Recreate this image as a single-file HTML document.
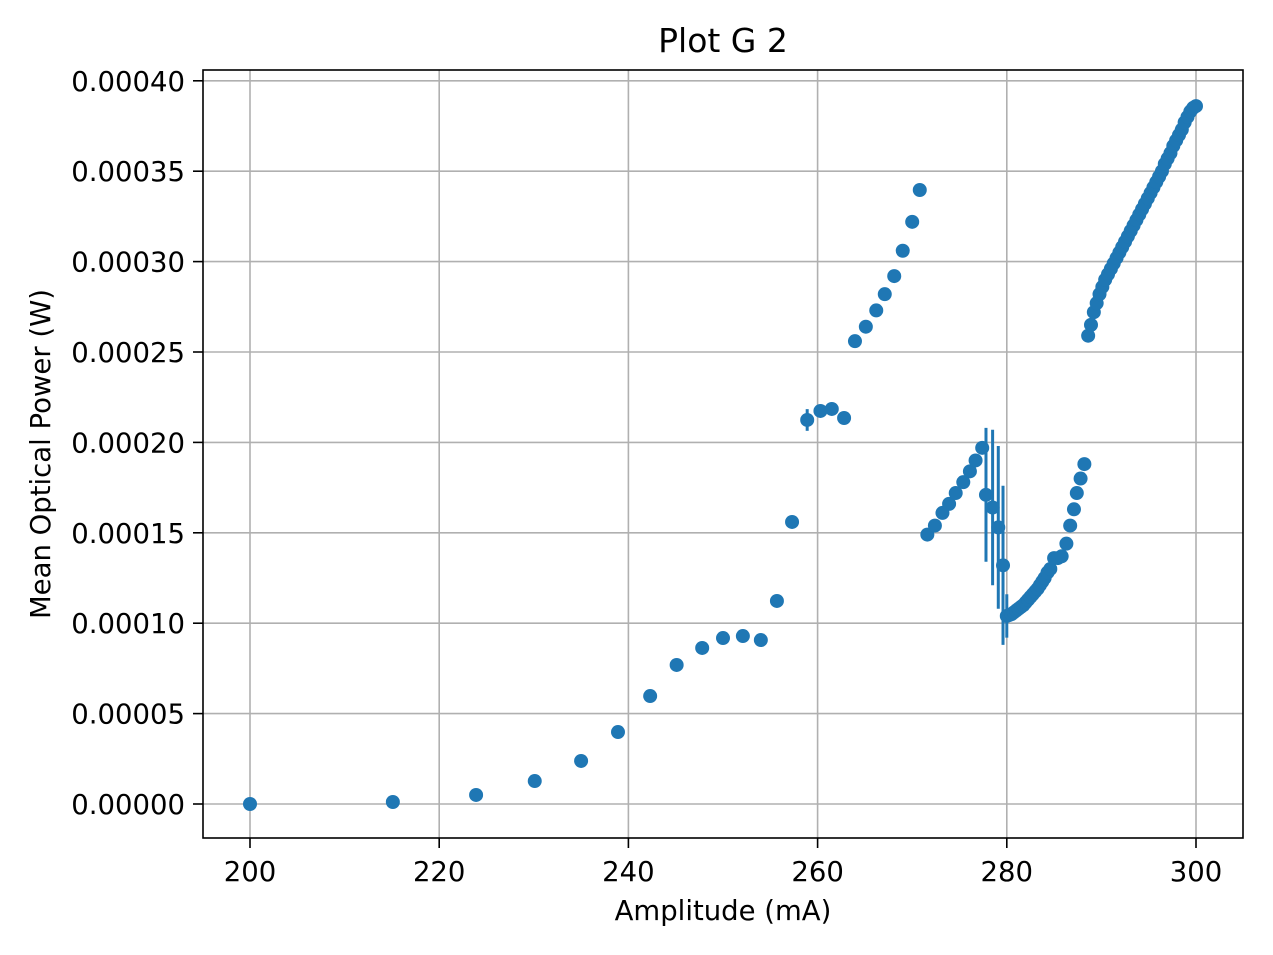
<!DOCTYPE html>
<html><head><meta charset="utf-8"><style>
html,body{margin:0;padding:0;background:#fff;}
svg{display:block;font-family:"DejaVu Sans","Liberation Sans",sans-serif;}
</style></head><body>
<svg id="chart" width="1273" height="955" viewBox="0 0 1273 955" xmlns="http://www.w3.org/2000/svg">
<rect x="0" y="0" width="1273" height="955" fill="#fff"/>
<g id="grid"></g>
<g id="errs"></g>
<g id="pts"></g>
<rect x="203" y="70" width="1040" height="768" fill="none" stroke="#000" stroke-width="1.6"/>
<g id="ticks"></g>
<text x="723" y="52" font-size="33" text-anchor="middle">Plot G 2</text>
<text x="723" y="920" font-size="27.5" text-anchor="middle">Amplitude (mA)</text>
<text x="0" y="0" font-size="27.5" text-anchor="middle" transform="translate(50,454) rotate(-90)">Mean Optical Power (W)</text>
</svg>
<script>
const xVals=[200,215.1,223.9,230.1,235.0,238.9,242.3,245.1,247.8,250.0,252.1,254.0,255.7,257.3,258.9,260.3,261.5,262.8,
263.95,265.1,266.2,267.1,268.1,269.0,270.0,270.8,
271.6,272.4,273.2,273.9,274.6,275.4,276.1,276.7,277.4,277.8,278.5,279.1,279.6,
280.0,280.25,280.5,280.75,281,281.25,281.5,281.75,282,282.25,282.5,282.75,283,283.25,283.5,283.75,284,284.3,284.6,285.0,285.4,285.8,286.3,286.7,287.1,287.4,287.8,288.2,
288.6,288.9,289.2,289.5,289.8,290.1,290.4,290.7,291.0,291.3,291.6,291.9,292.2,292.5,292.8,293.1,293.4,293.7,294.0,294.3,294.6,294.9,295.2,295.5,295.8,296.1,296.4,296.7,297.0,297.3,297.6,297.9,298.2,298.5,298.8,299.1,299.4,299.7,300.0];
const yVals=[0,0.11,0.5,1.27,2.38,3.98,5.97,7.69,8.63,9.18,9.29,9.07,11.23,15.6,21.24,21.74,21.85,21.35,
25.6,26.4,27.3,28.2,29.2,30.6,32.2,33.96,
14.9,15.4,16.1,16.6,17.2,17.8,18.4,19.0,19.7,17.1,16.4,15.3,13.2,
10.4,10.45,10.5,10.6,10.7,10.8,10.9,11.0,11.15,11.3,11.45,11.6,11.75,11.9,12.1,12.3,12.5,12.8,13.0,13.6,13.6,13.7,14.4,15.4,16.3,17.2,18.0,18.8,
25.9,26.5,27.2,27.7,28.2,28.6,29.0,29.3,29.6,29.9,30.2,30.5,30.8,31.1,31.4,31.7,32.0,32.3,32.6,32.9,33.2,33.5,33.8,34.1,34.4,34.7,35.0,35.4,35.7,36.0,36.4,36.7,37.0,37.3,37.7,38.0,38.3,38.5,38.6];
const errX=[258.9,277.8,278.5,279.1,279.6,280.0];
const errY=[21.24,17.1,16.4,15.3,13.2,10.4];
const errSize=[0.6,3.7,4.3,4.5,4.4,1.2];
const xTicks=[200,220,240,260,280,300];
const yTicks=[0,5,10,15,20,25,30,35,40];
const yTickLabels=["0.00000","0.00005","0.00010","0.00015","0.00020","0.00025","0.00030","0.00035","0.00040"];
const NS="http://www.w3.org/2000/svg";
function X(v){return 250+(v-200)*9.46;}
function Y(v){return 804-v*18.08;}
function mk(t,a,p){const e=document.createElementNS(NS,t);for(const k in a)e.setAttribute(k,a[k]);p.appendChild(e);return e;}
const grid=document.getElementById('grid'),ticks=document.getElementById('ticks');
xTicks.forEach(v=>{
 const g=mk('line',{x1:X(v),x2:X(v),y1:70,y2:838,stroke:'#b0b0b0','stroke-width':1.6},grid);
 
 
 const t=mk('line',{x1:X(v),x2:X(v),y1:838,y2:848,stroke:'#000','stroke-width':1.6},ticks);
 
 
 const l=mk('text',{x:X(v),y:881,'font-size':27.5,'text-anchor':'middle'},ticks);
 l.textContent=v;
 
 
});
yTicks.forEach((v,i)=>{
 const g=mk('line',{x1:203,x2:1243,y1:Y(v),y2:Y(v),stroke:'#b0b0b0','stroke-width':1.6},grid);
 
 
 const t=mk('line',{x1:193,x2:203,y1:Y(v),y2:Y(v),stroke:'#000','stroke-width':1.6},ticks);
 
 
 const l=mk('text',{x:185,y:Y(v)+10,'font-size':27.5,'text-anchor':'end'},ticks);
 l.textContent=yTickLabels[i];
 
 
});
const errs=document.getElementById('errs');
errX.forEach((v,i)=>{
 const e=mk('line',{x1:X(v),x2:X(v),y1:Y(errY[i]+errSize[i]),y2:Y(errY[i]-errSize[i]),stroke:'#1f77b4','stroke-width':3},errs);
 
 
});
const pts=document.getElementById('pts');
xVals.forEach((v,i)=>{
 const c=mk('circle',{cx:X(v),cy:Y(yVals[i]),r:7,fill:'#1f77b4'},pts);
 
 
});
</script>
</body></html>
